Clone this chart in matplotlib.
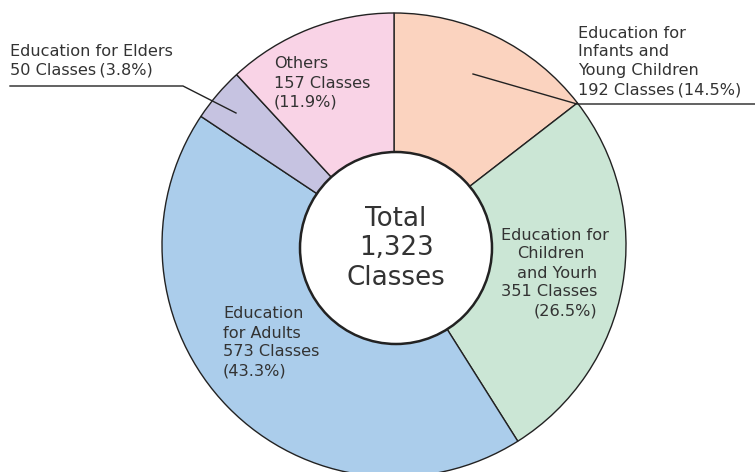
import matplotlib
matplotlib.use("Agg")
import matplotlib.pyplot as plt
from matplotlib.patches import Circle

categories = ["Education for Infants and Young Children", "Education for Children and Yourh",
              "Education for Adults", "Education for Elders", "Others"]
values = [192, 351, 573, 50, 157]
percents = ["14.5%", "26.5%", "43.3%", "3.8%", "11.9%"]
total_label = "1,323"
colors = ["#FBD3BF", "#CBE6D5", "#ABCDEB", "#C6C3E1", "#F9D3E6"]

W, H = 755, 472
fig = plt.figure(figsize=(W / 100, H / 100), dpi=100)
ax = fig.add_axes([0, 0, 1, 1])

def Y(py):
    return H - py

cx, cy, R = 394, 245, 232
ax.pie(values, center=(cx, Y(cy)), radius=R, startangle=90, counterclock=False,
       colors=colors, wedgeprops=dict(edgecolor="#222222", linewidth=1.0))
ax.add_patch(Circle((396, Y(248)), 96, facecolor="white", edgecolor="#222222", linewidth=1.8, zorder=5))
ax.set_xlim(0, W)
ax.set_ylim(0, H)
ax.set_aspect("equal")
ax.axis("off")

tc = "#333333"
fs = 11.6

def lines(x, y0, texts, dy=19, xs=None):
    for i, t in enumerate(texts):
        xx = x if xs is None else xs[i]
        ax.text(xx, Y(y0 + i * dy), t, fontsize=fs, color=tc, ha="left", va="center", zorder=6)

# Elders
lines(10, 51, ["Education for Elders", f"{values[3]} Classes\u2009({percents[3]})"])
ax.plot([10, 183, 236], [Y(86), Y(86), Y(113)], color="#222222", lw=1.0, zorder=6)
# Others
lines(274, 64, ["Others", f"{values[4]} Classes", f"({percents[4]})"])
# Infants
lines(578, 33, ["Education for", "Infants and", "Young Children", f"{values[0]} Classes\u2009({percents[0]})"])
ax.plot([473, 577, 755], [Y(74), Y(104), Y(104)], color="#222222", lw=1.0, zorder=6)
# Children
lines(501, 235, ["Education for", "Children", "and Yourh", f"{values[1]} Classes", f"({percents[1]})"],
      xs=[501, 517, 517, 501, 534])
# Adults
lines(223, 314, ["Education", "for Adults", f"{values[2]} Classes", f"({percents[2]})"])

# Center
for i, t in enumerate(["Total", total_label, "Classes"]):
    ax.text(396, Y(219 + i * 29.5), t, fontsize=18.8, color=tc, ha="center", va="center", zorder=7)

fig.savefig("out.png", dpi=100, facecolor="white")
